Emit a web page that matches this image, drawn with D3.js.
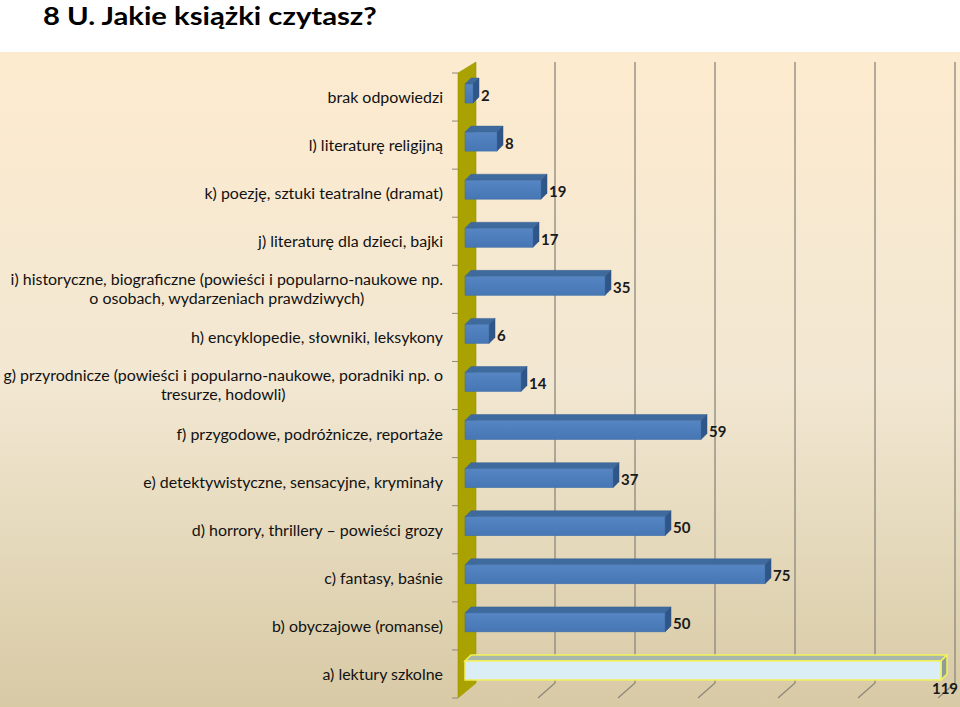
<!DOCTYPE html>
<html>
<head>
<meta charset="utf-8">
<script src="https://cdn.jsdelivr.net/npm/d3@7/dist/d3.min.js"></script>
<style>
  html, body { margin: 0; padding: 0; background: #fff; }
  svg { display: block; }
</style>
</head>
<body>
<svg id="chart" width="960" height="707"></svg>
<script>
// ---- data (top to bottom as drawn) ----
const categories = [
  ["brak odpowiedzi"],
  ["l) literaturę religijną"],
  ["k) poezję, sztuki teatralne (dramat)"],
  ["j) literaturę dla dzieci, bajki"],
  ["i) historyczne, biograficzne (powieści i popularno-naukowe np.", "o osobach, wydarzeniach prawdziwych)"],
  ["h) encyklopedie, słowniki, leksykony"],
  ["g) przyrodnicze (powieści i popularno-naukowe, poradniki np. o", "tresurze, hodowli)"],
  ["f) przygodowe, podróżnicze, reportaże"],
  ["e) detektywistyczne, sensacyjne, kryminały"],
  ["d) horrory, thrillery – powieści grozy"],
  ["c) fantasy, baśnie"],
  ["b) obyczajowe (romanse)"],
  ["a) lektury szkolne"]
];
const values = [2, 8, 19, 17, 35, 6, 14, 59, 37, 50, 75, 50, 119];
const highlighted = [false, false, false, false, false, false, false, false, false, false, false, false, true];
const xTicks = [20, 40, 60, 80, 100, 120];
const title = "8 U. Jakie książki czytasz?";

// ---- layout ----
const svg = d3.select("#chart");
const W = 960, H = 707;
const FONT = "Lato, 'Open Sans', 'DejaVu Sans', sans-serif";

const x = d3.scaleLinear().domain([0, 120]).range([465, 945]);
const keys = categories.map((c, i) => i);
const y = d3.scaleBand().domain(keys).range([73, 698]).paddingInner(0).paddingOuter(0);

const defs = svg.append("defs");
const bg = defs.append("linearGradient").attr("id", "bg").attr("x1", 0).attr("y1", 0).attr("x2", 0).attr("y2", 1);
bg.append("stop").attr("offset", "0%").attr("stop-color", "#fdebcf");
bg.append("stop").attr("offset", "50%").attr("stop-color", "#f2e7d2");
bg.append("stop").attr("offset", "100%").attr("stop-color", "#d8caa5");

const fg = defs.append("linearGradient").attr("id", "barFront").attr("x1", 0).attr("y1", 0).attr("x2", 0).attr("y2", 1);
fg.append("stop").attr("offset", "0%").attr("stop-color", "#5585c2");
fg.append("stop").attr("offset", "100%").attr("stop-color", "#4677b4");

// panel background
svg.append("rect").attr("x", 0).attr("y", 52).attr("width", W).attr("height", H - 52).attr("fill", "url(#bg)");

// title (horizontally fitted to the reference width)
const titleG = svg.append("g");
const titleT = titleG.append("text").attr("x", 0).attr("y", 0)
  .attr("font-family", FONT).attr("font-weight", "bold").attr("font-size", 25)
  .attr("fill", "#000").text(title);
{
  const w = titleT.node().getComputedTextLength();
  titleG.attr("transform", `translate(43,25) scale(${334 / w},1)`);
}

// gridlines (back wall + floor)
const backTop = 62, backBot = 683, frontBot = 698;
const grid = svg.append("g").attr("stroke", "#8c887c").attr("stroke-width", 1.3).attr("fill", "none");
xTicks.forEach(t => {
  const xb = x(t) + 10, xf = x(t) - 7;
  grid.append("path").attr("d", `M${xb},${backTop} L${xb},${backBot} L${xf},${frontBot}`);
});

// left wall
svg.append("polygon")
  .attr("points", [[458, 73], [476, 62], [476, backBot], [458, frontBot]].map(p => p.join(",")).join(" "))
  .attr("fill", "#aaa200").attr("stroke", "#9a9300").attr("stroke-width", 0.6);

// category boundary ticks
const tickYs = keys.map(k => y(k)).concat([y(keys[keys.length - 1]) + y.bandwidth()]);
svg.append("g").selectAll("line").data(tickYs).join("line")
  .attr("x1", 452).attr("x2", 458).attr("y1", d => d).attr("y2", d => d)
  .attr("stroke", "#8c887c").attr("stroke-width", 1);

// bars
const dx = 6, dy = -6;
const bars = svg.append("g");
values.forEach((v, i) => {
  const c = y(i) + y.bandwidth() / 2;
  const y0 = c - 13, y1 = c + 6;
  const x0 = x(0), x1 = x(v);
  const hl = highlighted[i];
  const g = bars.append("g");
  g.append("polygon")
    .attr("points", [[x0, y0], [x0 + dx, y0 + dy], [x1 + dx, y0 + dy], [x1, y0]].map(p => p.join(",")).join(" "))
    .attr("fill", hl ? "#a9b7ab" : "#3f6a9e")
    .attr("stroke", hl ? "#f2f25a" : "#3a6293").attr("stroke-width", hl ? 1.5 : 0.5);
  g.append("polygon")
    .attr("points", [[x1, y0], [x1 + dx, y0 + dy], [x1 + dx, y1 + dy], [x1, y1]].map(p => p.join(",")).join(" "))
    .attr("fill", hl ? "#8f9d98" : "#2f5686")
    .attr("stroke", hl ? "#f2f25a" : "#2c5080").attr("stroke-width", hl ? 1.5 : 0.5);
  g.append("rect").attr("x", x0).attr("y", y0).attr("width", x1 - x0).attr("height", y1 - y0)
    .attr("fill", hl ? "#dbeef5" : "url(#barFront)")
    .attr("stroke", hl ? "#f2f25a" : "#3f6ea8").attr("stroke-width", hl ? 1.5 : 0.5);
});

// value labels
svg.append("g").selectAll("text").data(values).join("text")
  .attr("font-family", FONT).attr("font-weight", "bold").attr("font-size", 15).attr("fill", "#1a1a1a")
  .attr("x", (d, i) => highlighted[i] ? x(d) + 4 : x(d) + 8)
  .attr("y", (d, i) => y(i) + y.bandwidth() / 2 + (highlighted[i] ? 20 : 3.5))
  .attr("text-anchor", (d, i) => highlighted[i] ? "middle" : "start")
  .text(d => d);

// category labels, fitted horizontally to the reference widths
const RIGHT = 443;
const labOuter = svg.append("g");
const labG = labOuter.append("g").attr("font-family", FONT).attr("fill", "#111").attr("font-size", 16);
const probe = labG.append("text").text(categories[4][0]);
const sx = 433 / probe.node().getComputedTextLength();
probe.remove();
labOuter.attr("transform", `translate(${RIGHT},0) scale(${sx},1)`);
categories.forEach((lines, i) => {
  const c = y(i) + y.bandwidth() / 2;
  if (lines.length === 1) {
    labG.append("text").attr("x", 0).attr("y", c + 6).attr("text-anchor", "end").text(lines[0]);
  } else {
    const t = labG.append("text").attr("text-anchor", "middle");
    const spans = lines.map((l, j) => t.append("tspan").attr("y", c - 4 + j * 18.5).text(l));
    const maxW = d3.max(spans, s => s.node().getComputedTextLength());
    spans.forEach(s => s.attr("x", -maxW / 2));
  }
});
</script>
</body>
</html>
